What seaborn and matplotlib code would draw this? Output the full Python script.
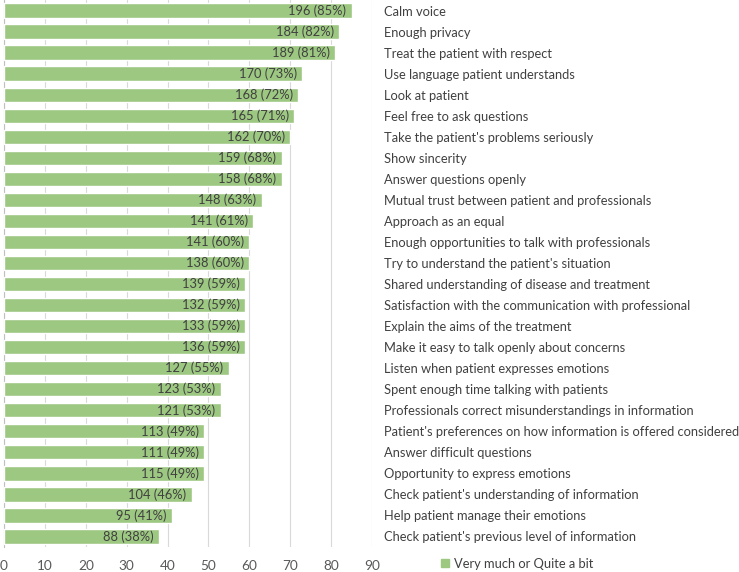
import matplotlib
matplotlib.use("Agg")
import matplotlib.pyplot as plt
from matplotlib.lines import Line2D
import seaborn as sns
import pandas as pd

categories = [
    "Calm voice",
    "Enough privacy",
    "Treat the patient with respect",
    "Use language patient understands",
    "Look at patient",
    "Feel free to ask questions",
    "Take the patient's problems seriously",
    "Show sincerity",
    "Answer questions openly",
    "Mutual trust between patient and professionals",
    "Approach as an equal",
    "Enough opportunities to talk with professionals",
    "Try to understand the patient's situation",
    "Shared understanding of disease and treatment",
    "Satisfaction with the communication with professional",
    "Explain the aims of the treatment",
    "Make it easy to talk openly about concerns",
    "Listen when patient expresses emotions",
    "Spent enough time talking with patients",
    "Professionals correct misunderstandings in information",
    "Patient's preferences on how information is offered considered",
    "Answer difficult questions",
    "Opportunity to express emotions",
    "Check patient's understanding of information",
    "Help patient manage their emotions",
    "Check patient's previous level of information",
]
counts = [196, 184, 189, 170, 168, 165, 162, 159, 158, 148, 141, 141, 138,
          139, 132, 133, 136, 127, 123, 121, 113, 111, 115, 104, 95, 88]
percents = [85, 82, 81, 73, 72, 71, 70, 68, 68, 63, 61, 60, 60,
            59, 59, 59, 59, 55, 53, 53, 49, 49, 49, 46, 41, 38]
x_ticks = [0, 10, 20, 30, 40, 50, 60, 70, 80, 90]
series_name = "Very much or Quite a bit"

df = pd.DataFrame({"item": categories, "pct": percents, "n": counts})

FONT = "Lato"
FS = 9.3
TXT = "#404040"
TICK = "#595959"
GREEN = "#9dc882"

sns.set_theme(style="white")
plt.rcParams["font.family"] = [FONT, "DejaVu Sans"]

fig = plt.figure(figsize=(7.39, 5.72), dpi=100)
ax = fig.add_axes([4 / 739, 25 / 572, 368 / 739, 547 / 572])

sns.barplot(data=df, x="pct", y="item", order=categories, color=GREEN,
            saturation=1, width=0.68, ax=ax, orient="h", zorder=3)

ax.set_xlim(0, 90)
ax.set_ylim(len(categories) - 0.5, -0.5)
ax.set_xticks(x_ticks)
ax.set_xticklabels([str(t) for t in x_ticks], fontsize=FS + 0.5, color=TICK)
ax.tick_params(axis="x", length=0, pad=9)
ax.xaxis.grid(True, color="#d9d9d9", linewidth=0.8, zorder=0)
ax.set_axisbelow(True)

ax.yaxis.tick_right()
ax.tick_params(axis="y", length=0, pad=9)
for lab in ax.get_yticklabels():
    lab.set_fontsize(FS)
    lab.set_color(TXT)
    lab.set_horizontalalignment("left")

ax.set_xlabel("")
ax.set_ylabel("")
for side in ["top", "right", "bottom"]:
    ax.spines[side].set_visible(False)
ax.spines["left"].set_color("#bfbfbf")
ax.spines["left"].set_linewidth(0.8)

labels = [f"{n} ({p}%)" for n, p in zip(counts, percents)]
ax.bar_label(ax.containers[0], labels=labels, label_type="edge", padding=-4,
             fontsize=FS, color=TXT)
for t in ax.texts:
    t.set_horizontalalignment("right")

handle = Line2D([0], [0], marker="s", color="none", markerfacecolor=GREEN,
                markeredgecolor=GREEN, markersize=6)
fig.legend([handle], [series_name], loc="center left",
           bbox_to_anchor=(428 / 739, 8 / 572), frameon=False,
           fontsize=FS, handlelength=0.8, handletextpad=0.3,
           labelcolor=TXT)

fig.savefig("out.png", dpi=100)
